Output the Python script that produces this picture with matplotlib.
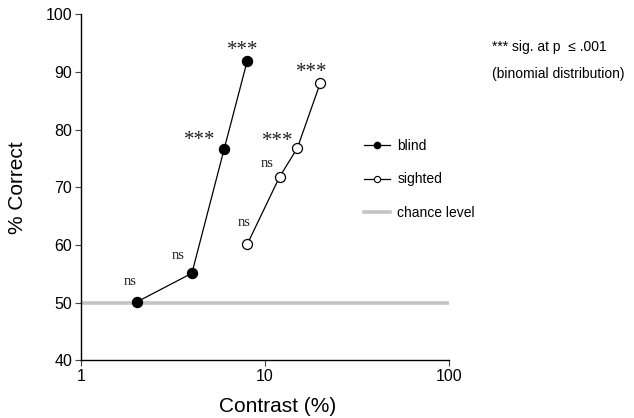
import matplotlib
matplotlib.use("Agg")
import matplotlib.pyplot as plt
from matplotlib.lines import Line2D

# ---- data ----
blind_contrast = [2, 4, 6, 8]
blind_correct = [50.1, 55.1, 76.7, 91.9]
blind_sig = ["ns", "ns", "***", "***"]

sighted_contrast = [8, 12, 15, 20]
sighted_correct = [60.1, 71.8, 76.8, 88.1]
sighted_sig = ["ns", "ns", "***", "***"]

chance_level = 50
chance_x = [1, 100]

yticks = [40, 50, 60, 70, 80, 90, 100]
xticks = [1, 10, 100]
xticklabels = ["1", "10", "100"]

# label offsets in pixels (layout only)
blind_off = [(-6, 21), (-14, 18), (-25, 12), (-4, 15)]
sighted_off = [(-3, 22), (-12, 13), (-20, 11), (-9, 14)]

SANS = "Liberation Sans"
SERIF = "Liberation Serif"

fig = plt.figure(figsize=(6.34, 4.18), dpi=100)
ax = fig.add_axes([81.3 / 634, 1 - 360.3 / 418, (448.7 - 81.3) / 634, (360.3 - 14.3) / 418])

ax.plot(chance_x, [chance_level, chance_level], color="#c4c4c4", lw=2.6,
        solid_capstyle="butt", zorder=1, clip_on=False)
ax.plot(blind_contrast, blind_correct, "-o", color="black", lw=0.9,
        markersize=7.2, markerfacecolor="black", markeredgecolor="black", zorder=3)
ax.plot(sighted_contrast, sighted_correct, "-o", color="black", lw=0.9,
        markersize=7.2, markerfacecolor="white", markeredgecolor="black",
        markeredgewidth=0.9, zorder=3)

def label(xs, ys, labs, offs):
    for x, y, s, (dx, dy) in zip(xs, ys, labs, offs):
        if s == "ns":
            ax.annotate(s, (x, y), xytext=(dx, dy), textcoords="offset pixels",
                        ha="center", va="center", fontsize=10.5, family=SERIF,
                        color="#222222")
        else:
            ax.annotate(s, (x, y), xytext=(dx, dy - 4), textcoords="offset pixels",
                        ha="center", va="center", fontsize=15, family=SERIF,
                        color="#222222")

label(blind_contrast, blind_correct, blind_sig, blind_off)
label(sighted_contrast, sighted_correct, sighted_sig, sighted_off)

ax.set_xscale("log")
ax.set_xlim(1, 100)
ax.set_ylim(40, 100)
ax.set_xticks(xticks)
ax.set_xticklabels(xticklabels)
ax.xaxis.set_minor_locator(matplotlib.ticker.NullLocator())
ax.set_yticks(yticks)
for s in ["top", "right"]:
    ax.spines[s].set_visible(False)
for s in ["left", "bottom"]:
    ax.spines[s].set_linewidth(1.0)
ax.tick_params(axis="both", direction="out", length=4.5, width=0.8, color="#444444",
               labelsize=11.5, pad=2)
for t in ax.get_xticklabels() + ax.get_yticklabels():
    t.set_family(SANS)

ax.set_xlabel("Contrast (%)", fontsize=15, family=SANS, labelpad=6)
ax.xaxis.set_label_coords(0.535, -0.105)
ax.set_ylabel("% Correct", fontsize=15, family=SANS, ha="center", va="center")
ax.yaxis.set_label_coords((17.5 - 81.3) / 367.4, 0.5)

handles = [
    Line2D([], [], color="black", lw=0.9, marker="o", markersize=4.5,
           markerfacecolor="black", markeredgecolor="black"),
    Line2D([], [], color="black", lw=0.9, marker="o", markersize=4.5,
           markerfacecolor="white", markeredgecolor="black", markeredgewidth=0.8),
    Line2D([], [], color="#c4c4c4", lw=2.6),
]
fig.legend(handles, ["blind", "sighted", "chance level"], loc="upper left",
           bbox_to_anchor=(364 / 634, 1 - 139 / 418), frameon=False,
           prop={"family": SANS, "size": 10}, handlelength=1.85, handletextpad=0.55,
           labelspacing=1.4, borderpad=0, borderaxespad=0)

fig.text(491.7 / 634, 1 - 46.7 / 418, "*** sig. at p  \u2264 .001", ha="left", va="center",
         fontsize=10, family=SANS)
fig.text(491.7 / 634, 1 - 74 / 418, "(binomial distribution)", ha="left", va="center",
         fontsize=10, family=SANS)

fig.savefig("out.png", dpi=100)
